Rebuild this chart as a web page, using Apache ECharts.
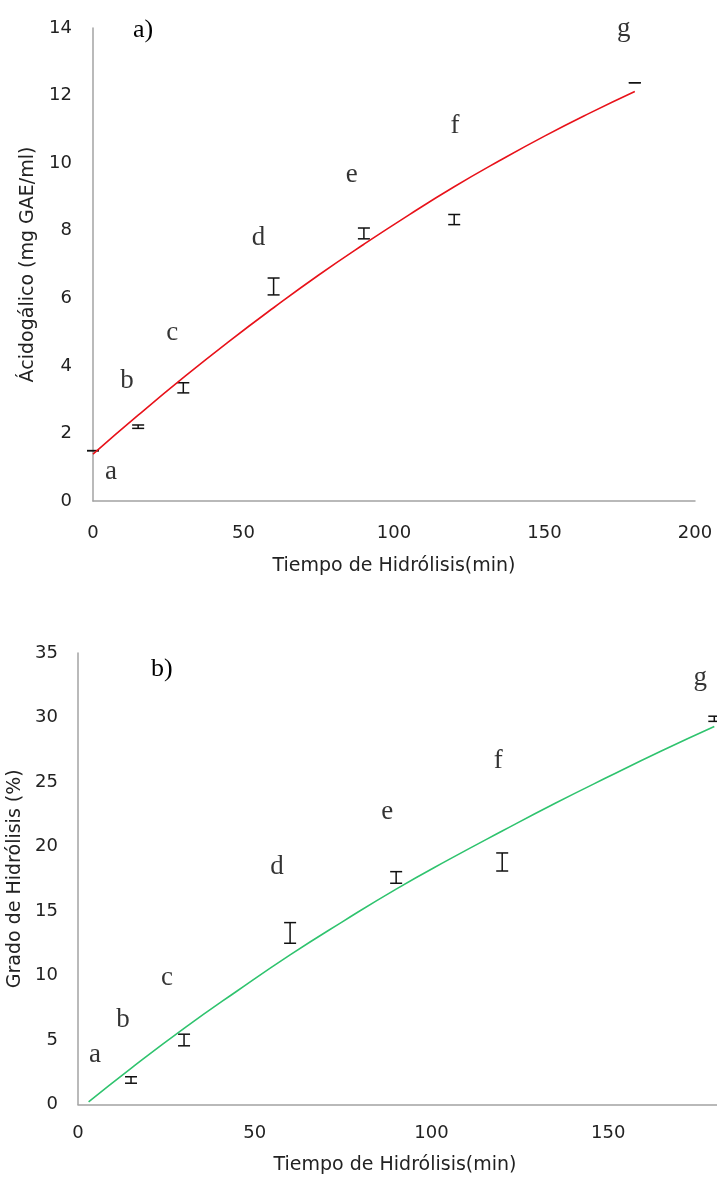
<!DOCTYPE html>
<html>
<head>
<meta charset="utf-8">
<script src="https://cdn.jsdelivr.net/npm/echarts@6/dist/echarts.min.js"></script>
<style>
  html, body { margin: 0; padding: 0; background: #ffffff; }
  #grafico { width: 717px; height: 1180px; }
</style>
</head>
<body>
<div id="grafico"></div>
<script>
// a) Ácido gálico liberado (mg GAE/ml) frente al tiempo de hidrólisis
const tiemposAcido = [0, 15, 30, 60, 90, 120, 180];
const acidoMedia = [1.49, 2.2, 3.35, 6.35, 7.92, 8.33, 12.38];
const acidoError = [0, 0.05, 0.15, 0.25, 0.16, 0.15, 0];
const acidoTendencia = [[0, 1.39], [15, 2.54], [30, 3.65], [45, 4.71], [60, 5.72], [75, 6.69], [90, 7.6],
  [105, 8.47], [120, 9.3], [135, 10.07], [150, 10.8], [165, 11.48], [180, 12.12]];
const acidoLetras = ['a', 'b', 'c', 'd', 'e', 'f', 'g'];
const acidoLetrasPos = [[6, 0.85], [11.3, 3.56], [26.3, 4.98], [55, 7.8], [86, 9.66], [120.3, 11.1], [176.3, 13.98]];

// b) Grado de hidrólisis (%) frente al tiempo de hidrólisis
const tiemposGH = [15, 30, 60, 90, 120, 180];
const ghMedia = [1.9, 5.0, 13.3, 17.6, 18.8, 29.9];
const ghError = [0.25, 0.45, 0.8, 0.45, 0.7, 0.2];
const ghTendencia = [[3, 0.2], [15, 2.8], [30, 5.9], [45, 8.8], [60, 11.6], [75, 14.2], [90, 16.7],
  [105, 19.0], [120, 21.2], [135, 23.35], [150, 25.4], [165, 27.4], [180, 29.3]];
const ghLetras = ['a', 'b', 'c', 'd', 'e', 'f', 'g'];
const ghLetrasPos = [[4.8, 3.84], [12.7, 6.56], [25.2, 9.83], [56.3, 18.4], [87.5, 22.7], [118.9, 26.6], [176, 33.1]];

const fuenteSans = 'DejaVu Sans';
const fuenteSerif = 'Liberation Serif';
const colorEje = '#a3a3a3';
const colorTexto = '#222';

// Barra de error en forma de "I" con remates horizontales
function barraError(params, api) {
  const x = api.value(0), m = api.value(1), e = api.value(2);
  const sup = api.coord([x, m + e]);
  const inf = api.coord([x, m - e]);
  const medio = 6;
  const estilo = { stroke: '#111', lineWidth: 1.5 };
  const hijos = [
    { type: 'line', shape: { x1: sup[0] - medio, y1: sup[1], x2: sup[0] + medio, y2: sup[1] }, style: estilo },
    { type: 'line', shape: { x1: inf[0] - medio, y1: inf[1], x2: inf[0] + medio, y2: inf[1] }, style: estilo }
  ];
  if (e > 0) {
    hijos.push({ type: 'line', shape: { x1: sup[0], y1: sup[1], x2: inf[0], y2: inf[1] }, style: estilo });
  }
  return { type: 'group', children: hijos };
}

function ejeX(gridIndex, margen, gap, relleno) {
  return {
    type: 'value', gridIndex: gridIndex, min: 0, max: 200, interval: 50,
    name: 'Tiempo de Hidrólisis(min)', nameLocation: 'middle', nameGap: gap,
    nameTextStyle: { fontFamily: fuenteSans, fontSize: 19, color: colorTexto, padding: relleno },
    axisLine: { show: true, lineStyle: { color: colorEje, width: 1.5 } },
    axisTick: { show: false },
    splitLine: { show: false },
    axisLabel: { fontFamily: fuenteSans, fontSize: 18, color: colorTexto, margin: margen }
  };
}

function ejeY(gridIndex, max, intervalo, nombre, gap, margen) {
  return {
    type: 'value', gridIndex: gridIndex, min: 0, max: max, interval: intervalo,
    name: nombre, nameLocation: 'middle', nameGap: gap, nameRotate: 90,
    nameTextStyle: { fontFamily: fuenteSans, fontSize: 19, color: colorTexto },
    axisLine: { show: true, lineStyle: { color: colorEje, width: 1.5 } },
    axisTick: { show: false },
    splitLine: { show: false },
    axisLabel: { fontFamily: fuenteSans, fontSize: 18, color: colorTexto, margin: margen }
  };
}

function serieLetras(idx, letras, pos) {
  return {
    type: 'scatter', xAxisIndex: idx, yAxisIndex: idx, symbolSize: 0, silent: true,
    data: pos.map((p, i) => ({ value: p, name: letras[i] })),
    label: {
      show: true, position: 'inside', formatter: '{b}',
      fontFamily: fuenteSerif, fontSize: 27, color: '#000',
      textBorderWidth: 0
    }
  };
}

const grafico = echarts.init(document.getElementById('grafico'), null, { renderer: 'canvas' });

grafico.setOption({
  animation: false,
  backgroundColor: '#ffffff',
  title: [
    { text: 'a)', left: 133, top: 17, padding: 0,
      textStyle: { fontFamily: fuenteSerif, fontSize: 26, fontWeight: 'normal', color: '#000' } },
    { text: 'b)', left: 151, top: 656, padding: 0,
      textStyle: { fontFamily: fuenteSerif, fontSize: 26, fontWeight: 'normal', color: '#000' } }
  ],
  grid: [
    { left: 93, top: 28, width: 602, height: 473, containLabel: false, outerBoundsMode: 'none' },
    // the second panel runs past the right edge of the page (its 200 mark is cut off)
    { left: 78, top: 653, width: 707, height: 451.5, containLabel: false, outerBoundsMode: 'none' }
  ],
  xAxis: [
    ejeX(0, 23, 56, [0, 0, 0, 0]),
    ejeX(1, 20, 51, [0, 73, 0, 0])
  ],
  yAxis: [
    ejeY(0, 14, 2, 'Ácidogálico (mg GAE/ml)', 55, 21),
    ejeY(1, 35, 5, 'Grado de Hidrólisis (%)', 52, 20)
  ],
  series: [
    {
      type: 'line', xAxisIndex: 0, yAxisIndex: 0, data: acidoTendencia,
      smooth: true, showSymbol: false, silent: true,
      lineStyle: { color: '#e8121a', width: 1.6 }
    },
    {
      type: 'custom', xAxisIndex: 0, yAxisIndex: 0, renderItem: barraError,
      data: tiemposAcido.map((t, i) => [t, acidoMedia[i], acidoError[i]]),
      encode: { x: 0, y: 1 }, silent: true
    },
    serieLetras(0, acidoLetras, acidoLetrasPos),
    {
      type: 'line', xAxisIndex: 1, yAxisIndex: 1, data: ghTendencia,
      smooth: true, showSymbol: false, silent: true,
      lineStyle: { color: '#2fc36e', width: 1.6 }
    },
    {
      type: 'custom', xAxisIndex: 1, yAxisIndex: 1, renderItem: barraError,
      data: tiemposGH.map((t, i) => [t, ghMedia[i], ghError[i]]),
      encode: { x: 0, y: 1 }, silent: true
    },
    serieLetras(1, ghLetras, ghLetrasPos)
  ]
});
</script>
</body>
</html>
